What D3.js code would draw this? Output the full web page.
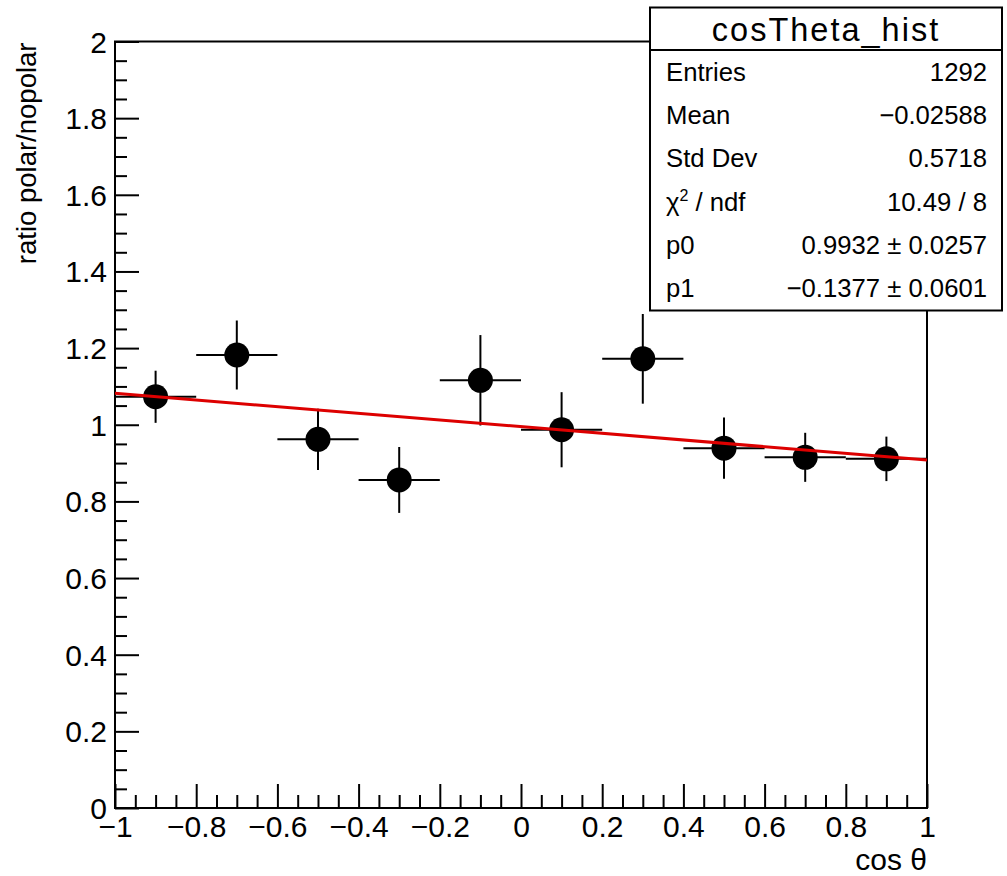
<!DOCTYPE html>
<html>
<head>
<meta charset="utf-8">
<script src="https://cdn.jsdelivr.net/npm/d3@7"></script>
<style>
  html, body { margin: 0; padding: 0; background: #fff; }
  svg { display: block; font-family: "Liberation Sans", Arial, Helvetica, sans-serif; }
</style>
</head>
<body>
<svg id="chart" width="1007" height="876"></svg>
<script>
// ---- data ----
const binCenters = [-0.9, -0.7, -0.5, -0.3, -0.1, 0.1, 0.3, 0.5, 0.7, 0.9];
const ratioValues = [1.073, 1.182, 0.962, 0.856, 1.116, 0.987, 1.172, 0.939, 0.915, 0.911];
const ratioErrors = [0.068, 0.090, 0.080, 0.086, 0.118, 0.098, 0.117, 0.080, 0.064, 0.058];
const binHalfWidth = 0.1;
const fitX = [-1, 1];
const fitY = [1.082, 0.908];
const xMajorTicks = [-1, -0.8, -0.6, -0.4, -0.2, 0, 0.2, 0.4, 0.6, 0.8, 1];
const xTickLabels = ["\u22121", "\u22120.8", "\u22120.6", "\u22120.4", "\u22120.2", "0", "0.2", "0.4", "0.6", "0.8", "1"];
const yMajorTicks = [0, 0.2, 0.4, 0.6, 0.8, 1, 1.2, 1.4, 1.6, 1.8, 2];
const yTickLabels = ["0", "0.2", "0.4", "0.6", "0.8", "1", "1.2", "1.4", "1.6", "1.8", "2"];
const statsTitle = "cosTheta_hist";
const statsNames = ["Entries", "Mean", "Std Dev", "CHI2", "p0", "p1"];
const statsValues = ["1292", "\u22120.02588", "0.5718", "10.49 / 8", "0.9932 \u00b1 0.0257", "\u22120.1377 \u00b1 0.0601"];
const xTitle = "cos \u03b8";
const yTitle = "ratio polar/nopolar";

// ---- layout ----
const L = 115, R = 927, T = 41.5, B = 808;
const FONT = "Liberation Sans, Arial, sans-serif";
const svg = d3.select("#chart");
const x = d3.scaleLinear().domain([-1, 1]).range([L, R]);
const y = d3.scaleLinear().domain([0, 2]).range([B, T]);

const xMinor = d3.range(-1, 1.0001, 0.05).map(v => +v.toFixed(2)).filter(v => !xMajorTicks.some(m => Math.abs(m - v) < 1e-6));
const yMinor = d3.range(0, 2.0001, 0.05).map(v => +v.toFixed(2)).filter(v => !yMajorTicks.some(m => Math.abs(m - v) < 1e-6));

// frame
svg.append("rect").attr("x", L).attr("y", T).attr("width", R - L).attr("height", B - T)
  .attr("fill", "none").attr("stroke", "#000").attr("stroke-width", 2);

// x axis
const gx = svg.append("g").attr("transform", `translate(0,${B})`);
gx.call(d3.axisBottom(x).tickValues(xMajorTicks).tickSizeInner(-24).tickSizeOuter(0)
  .tickFormat((d, i) => xTickLabels[i]));
const gxm = svg.append("g").attr("transform", `translate(0,${B})`);
gxm.call(d3.axisBottom(x).tickValues(xMinor).tickSize(-13).tickFormat(""));
[gx, gxm].forEach(g => {
  g.select(".domain").remove();
  g.selectAll("line").attr("stroke", "#000").attr("stroke-width", 2);
});
gx.selectAll("text").attr("font-size", 30).attr("fill", "#000").attr("font-family", FONT)
  .attr("y", 29).attr("dy", null);

// y axis
const gy = svg.append("g").attr("transform", `translate(${L},0)`);
gy.call(d3.axisLeft(y).tickValues(yMajorTicks).tickSizeInner(-24).tickSizeOuter(0)
  .tickPadding(8).tickFormat((d, i) => yTickLabels[i]));
const gym = svg.append("g").attr("transform", `translate(${L},0)`);
gym.call(d3.axisLeft(y).tickValues(yMinor).tickSize(-12).tickFormat(""));
[gy, gym].forEach(g => {
  g.select(".domain").remove();
  g.selectAll("line").attr("stroke", "#000").attr("stroke-width", 2);
});
gy.selectAll("text").attr("font-size", 30).attr("fill", "#000").attr("font-family", FONT)
  .attr("dy", "0.35em");

// axis titles
svg.append("text").attr("x", R).attr("y", 869.5).attr("text-anchor", "end")
  .attr("font-size", 30).text(xTitle);
svg.append("text").attr("transform", `translate(36,${T + 1}) rotate(-90)`).attr("text-anchor", "end")
  .attr("font-size", 27.5).text(yTitle);

// data points with error bars
const pts = binCenters.map((c, i) => ({ c, v: ratioValues[i], e: ratioErrors[i] }));
const gp = svg.append("g");
gp.selectAll("line.h").data(pts).join("line").attr("class", "h")
  .attr("x1", d => x(d.c - binHalfWidth)).attr("x2", d => x(d.c + binHalfWidth))
  .attr("y1", d => y(d.v)).attr("y2", d => y(d.v))
  .attr("stroke", "#000").attr("stroke-width", 2);
gp.selectAll("line.v").data(pts).join("line").attr("class", "v")
  .attr("x1", d => x(d.c)).attr("x2", d => x(d.c))
  .attr("y1", d => y(d.v - d.e)).attr("y2", d => y(d.v + d.e))
  .attr("stroke", "#000").attr("stroke-width", 2);
gp.selectAll("circle").data(pts).join("circle")
  .attr("cx", d => x(d.c)).attr("cy", d => y(d.v)).attr("r", 12.5).attr("fill", "#000");

// fit line
svg.append("path").datum(fitX.map((v, i) => [v, fitY[i]]))
  .attr("d", d3.line().x(d => x(d[0])).y(d => y(d[1])))
  .attr("fill", "none").attr("stroke", "#dd0000").attr("stroke-width", 3);

// stats box
const bx = 650, by = 7.5, bw = 352, bh = 303, sep = 50;
svg.append("rect").attr("x", bx).attr("y", by).attr("width", bw).attr("height", bh)
  .attr("fill", "#fff").attr("stroke", "#000").attr("stroke-width", 2);
svg.append("line").attr("x1", bx).attr("x2", bx + bw).attr("y1", sep).attr("y2", sep)
  .attr("stroke", "#000").attr("stroke-width", 2);
svg.append("text").attr("x", bx + bw / 2).attr("y", 41).attr("text-anchor", "middle")
  .attr("font-size", 32.5).attr("letter-spacing", 2).text(statsTitle);
const rowY = i => 81 + 43.2 * i;
statsNames.forEach((n, i) => {
  const t = svg.append("text").attr("x", 666).attr("y", rowY(i)).attr("font-size", 25.7);
  if (n === "CHI2") {
    t.append("tspan").text("\u03c7");
    t.append("tspan").attr("font-size", 16).attr("dy", -10).text("2");
    t.append("tspan").attr("dy", 10).text(" / ndf");
  } else {
    t.text(n);
  }
  svg.append("text").attr("x", 987).attr("y", rowY(i)).attr("text-anchor", "end")
    .attr("font-size", 25.7).text(statsValues[i]);
});
</script>
</body>
</html>
